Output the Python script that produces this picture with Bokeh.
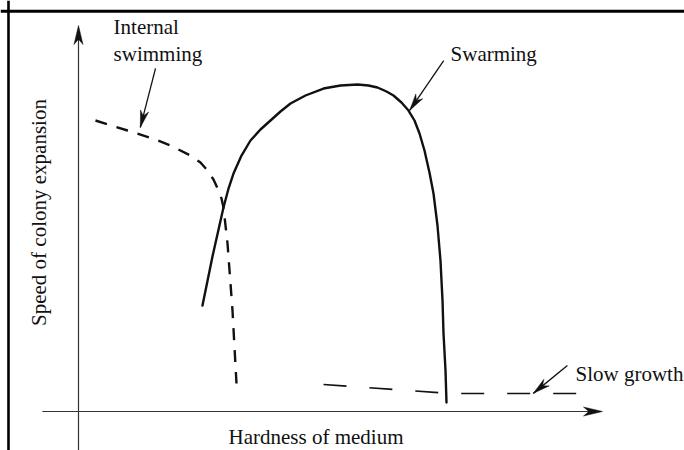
import math
from bokeh.plotting import figure
from bokeh.models import Range1d, Span
from bokeh.core.properties import value
from bokeh.embed import file_html
from bokeh.resources import INLINE

# ---- data (hardness, speed) in arbitrary units: axes cross at (0,0), arrow tips at 100 ----
swarm_x = [23.66, 25.57, 27.67, 28.63, 29.58, 31.11, 32.82, 34.73, 36.64, 38.55, 40.46, 43.32,
           46.76, 50.00, 53.24, 55.34, 57.06, 58.78, 60.11, 61.64, 62.98, 64.12, 65.08, 66.03,
           66.98, 67.75, 68.51, 69.08, 69.47, 69.66, 70.04, 70.23]
swarm_y = [27.46, 40.16, 52.85, 57.77, 61.66, 66.32, 70.21, 73.06, 75.39, 77.72, 79.79, 81.87,
           83.68, 84.46, 84.72, 84.46, 83.94, 82.90, 81.87, 80.05, 77.98, 75.39, 72.02, 67.62,
           61.92, 56.48, 48.19, 39.12, 28.76, 20.21, 10.62, 2.33]

internal_x = [3.24, 9.35, 14.69, 17.56, 21.37, 23.28, 24.62, 25.76, 26.72, 27.29, 27.67, 28.44, 29.39, 30.15]
internal_y = [75.39, 72.80, 70.47, 68.91, 66.32, 64.51, 62.44, 60.10, 57.25, 55.18, 52.85, 43.52, 26.17, 7.25]

slow_x = [46.76, 70.99, 95.23]
slow_y = [6.99, 4.66, 4.66]

# annotation labels
label_text = ["Internal", "swimming", "Swarming", "Slow growth"]
label_x = [6.7, 6.7, 71.0, 94.85]
label_y = [99.5, 92.5, 92.5, 9.6]

# annotation arrows (start -> tip)
arrow_x0 = [14.7, 69.7, 93.3]
arrow_y0 = [88.9, 90.9, 11.9]
arrow_x1 = [11.8, 63.2, 86.8]
arrow_y1 = [73.6, 78.0, 4.7]

x_title = "Hardness of medium"
y_title = "Speed of colony expansion"

# ---- layout ----
W, H = 684, 450
X0, X1 = -14.885, 115.65
Y0, Y1 = -10.10, 106.48
SX = W / (X1 - X0)
SY = H / (Y1 - Y0)

p = figure(width=W, height=H, x_range=Range1d(X0, X1), y_range=Range1d(Y0, Y1),
           output_backend="svg", toolbar_location=None, title=None,
           x_axis_location=None, y_axis_location=None, min_border=0,
           background_fill_color="white", border_fill_color="white",
           outline_line_color=None)
p.grid.visible = False

FONT = value("Liberation Serif")
FS = value("21px")
INK = "#111111"

# frame border (top and left)
p.add_layout(Span(location=103.7, dimension="width", line_color="black", line_width=2.8))
p.add_layout(Span(location=-13.36, dimension="height", line_color="black", line_width=2.6))


def head(tx, ty, fx, fy, L, hw, notch):
    dx = (tx - fx) * SX
    dy = (ty - fy) * SY
    n = math.hypot(dx, dy)
    ux, uy = dx / n, dy / n
    nx, ny = -uy, ux
    pts = [(0, 0), (-L * ux + hw * nx, -L * uy + hw * ny),
           (-notch * L * ux, -notch * L * uy), (-L * ux - hw * nx, -L * uy - hw * ny)]
    return [tx + a / SX for a, b in pts], [ty + b / SY for a, b in pts]


# axes
AX = "#333333"
p.line([-6.9, 99.0], [0, 0], line_color=AX, line_width=1.2)
p.line([0, 0], [-12.0, 99.0], line_color=AX, line_width=1.2)
hx, hy = head(100, 0, 0, 0, 19, 4.5, 0.72)
p.patch(hx, hy, fill_color=INK, line_color=INK, line_width=0.5)
hx, hy = head(0, 100, 0, 0, 19, 4.5, 0.72)
p.patch(hx, hy, fill_color=INK, line_color=INK, line_width=0.5)

# curves
p.line(swarm_x, swarm_y, line_color=INK, line_width=2.4, line_join="round", line_cap="round")
p.line(internal_x, internal_y, line_color=INK, line_width=2.4, line_dash="12 10")
p.line(slow_x, slow_y, line_color=INK, line_width=1.6, line_dash="23 23")

# annotation arrows
for x0, y0, x1, y1 in zip(arrow_x0, arrow_y0, arrow_x1, arrow_y1):
    p.line([x0, x1], [y0, y1], line_color=INK, line_width=1.3)
    hx, hy = head(x1, y1, x0, y0, 17, 4.2, 0.7)
    p.patch(hx, hy, fill_color=INK, line_color=INK, line_width=0.5)

# labels
p.text(x=label_x, y=label_y, text=label_text, text_font=FONT, text_font_size=FS,
       text_color=INK, text_align="left", text_baseline="alphabetic")
p.text(x=[28.63], y=[-6.6], text=[x_title], text_font=FONT, text_font_size=FS,
       text_color=INK, text_align="left", text_baseline="alphabetic")
p.text(x=[-7.6], y=[51.55], text=[y_title], text_font=FONT, text_font_size=FS,
       text_color=INK, text_align="center", text_baseline="alphabetic", angle=math.pi / 2)

open("out.html", "w").write(file_html(p, INLINE))
